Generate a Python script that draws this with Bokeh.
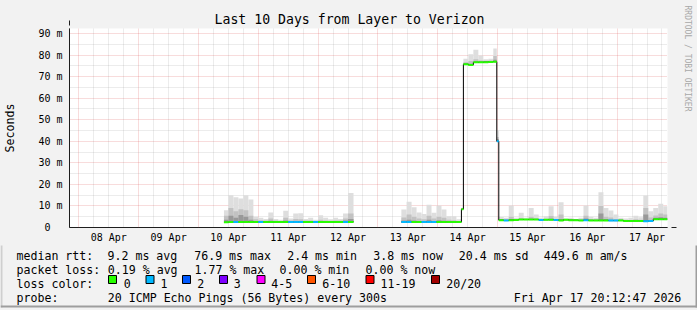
from math import nan
from bokeh.plotting import figure
from bokeh.layouts import column, row
from bokeh.models import FixedTicker, Arrow, NormalHead, ColumnDataSource, Range1d, Title
from bokeh.core.properties import value
from bokeh.embed import file_html
from bokeh.resources import INLINE

# ---------------- data (time in hours since 08 Apr 2026 00:00) ----------------
x_start_h = -3.787    # Fri Apr 07 20:12:47
x_end_h = 236.213     # Fri Apr 17 20:12:47

day_tick_hours = [12, 36, 60, 84, 108, 132, 156, 180, 204, 228]
day_tick_labels = ["08 Apr", "09 Apr", "10 Apr", "11 Apr", "12 Apr",
                   "13 Apr", "14 Apr", "15 Apr", "16 Apr", "17 Apr"]
midnight_hours = [0, 24, 48, 72, 96, 120, 144, 168, 192, 216]

y_tick_values = [0, 10, 20, 30, 40, 50, 60, 70, 80, 90]
y_tick_labels = ["0\u00a0\u00a0", "10 m", "20 m", "30 m", "40 m", "50 m",
                 "60 m", "70 m", "80 m", "90 m"]

bin_start = [58.2, 60, 62, 64, 66, 68, 70, 72, 74, 76, 78, 80, 82, 84, 86, 88, 90, 92, 94, 96,
             98, 100, 102, 104, 106, 108,
             129.4, 131.5, 133.5, 135.5, 137.5, 139.5, 141.5, 143.5, 145.5, 147.5, 149.5, 151.5, 153.5,
             154.3, 156.3, 158.3, 160.3, 162.3, 164.3, 166.3, 167.7,
             168.5, 170.5, 172.5, 174.5, 176.5, 178.5, 180.5, 182.5, 184.5, 186.5, 188.5, 190.5,
             192.5, 194.5, 196.5, 198.5, 200.5, 202.5, 204.5, 206.5, 208.5, 210.5, 212.5, 214.5,
             216.5, 218.5, 220.5, 222.5, 224.5, 226.5, 228.5, 230.5, 232.5, 234.5]
bin_end = [60, 62, 64, 66, 68, 70, 72, 74, 76, 78, 80, 82, 84, 86, 88, 90, 92, 94, 96, 98,
           100, 102, 104, 106, 108, 110.2,
           131.5, 133.5, 135.5, 137.5, 139.5, 141.5, 143.5, 145.5, 147.5, 149.5, 151.5, 153.5, 154.3,
           156.3, 158.3, 160.3, 162.3, 164.3, 166.3, 167.7, 168.5,
           170.5, 172.5, 174.5, 176.5, 178.5, 180.5, 182.5, 184.5, 186.5, 188.5, 190.5, 192.5,
           194.5, 196.5, 198.5, 200.5, 202.5, 204.5, 206.5, 208.5, 210.5, 212.5, 214.5, 216.5,
           218.5, 220.5, 222.5, 224.5, 226.5, 228.5, 230.5, 232.5, 234.5, 236.2]
median_ms = [2.4, 2.5, 2.5, 2.5, 2.5, 2.6, 2.5, 2.5, 2.5, 2.5, 2.5, 2.5, 2.5, 2.5, 2.5, 2.5, 2.5, 2.5, 2.5, 2.5,
             2.5, 2.5, 2.5, 2.5, 2.5, 2.6,
             2.5, 2.5, 2.5, 2.5, 2.5, 2.5, 2.5, 2.5, 2.5, 2.5, 2.5, 2.5, 8.5,
             75.7, 75.4, 76.6, 76.6, 76.7, 76.8, 76.9, 40.0,
             3.4, 3.3, 3.4, 3.5, 3.7, 3.7, 3.7, 3.7, 3.5, 3.6, 3.6, 3.5,
             3.3, 3.6, 3.4, 3.4, 3.3, 3.4, 3.3, 3.3, 3.3, 3.3, 3.2, 3.2,
             3.3, 3.0, 3.0, 3.0, 3.0, 2.9, 3.0, 3.8, 3.8, 3.8]
loss_count = [0, 0, 1, 0, 0, 0, 0, 1, 0, 0, 0, 0, 0, 1, 1, 1, 0, 0, 1, 0,
              0, 0, 0, 0, 1, 0,
              1, 1, 0, 0, 1, 1, 1, 0, 0, 0, 0, 0, 0,
              0, 0, 0, 0, 0, 0, 0, 1,
              0, 1, 0, 0, 0, 0, 0, 0, 1, 0, 0, 1,
              0, 0, 0, 0, 0, 1, 0, 0, 0, 0, 1, 1,
              0, 0, 0, 0, 0, 1, 1, 0, 0, 0]
smoke_max_ms = [8.0, 15.0, 14.0, 13.5, 15.0, 13.0, 5.0, 4.5, 4.0, 7.0, 4.0, 3.6, 7.8, 4.2, 6.5, 6.6, 4.0, 4.5, 3.6, 5.7,
                4.5, 3.8, 4.5, 4.0, 6.5, 16.0,
                8.3, 11.9, 9.4, 7.0, 6.3, 10.6, 6.8, 10.2, 8.3, 5.2, 5.2, 3.8, 9.2,
                78.3, 80.3, 82.5, 79.8, 78.0, 78.3, 83.0, 45.0,
                4.9, 4.5, 10.2, 4.5, 6.8, 4.5, 9.1, 6.0, 4.5, 5.2, 9.8, 5.0,
                11.7, 4.2, 4.5, 4.0, 4.5, 10.2, 5.0, 4.5, 16.3, 9.1, 7.9, 6.0,
                4.5, 4.2, 4.5, 5.5, 4.8, 14.9, 7.5, 9.1, 11.0, 9.8]
smoke_mid_ms = [5.5, 9.0, 7.5, 8.5, 8.0, 5.5, 3.8, 3.4, 3.3, 4.2, 3.2, 3.0, 4.5, 3.3, 4.0, 3.8, 3.2, 3.3, 3.0, 3.6,
                3.3, 3.1, 3.3, 3.2, 4.2, 6.5,
                4.6, 6.0, 5.0, 4.2, 3.8, 5.5, 4.2, 5.0, 4.5, 3.6, 3.4, 3.0, 8.9,
                76.6, 77.2, 78.0, 77.5, 77.3, 77.4, 79.5, 42.0,
                3.8, 3.7, 5.0, 3.8, 4.4, 3.9, 5.0, 4.3, 3.8, 4.0, 5.3, 3.9,
                6.0, 3.8, 3.7, 3.6, 3.7, 5.5, 3.8, 3.7, 10.0, 5.0, 4.6, 4.0,
                3.7, 3.4, 3.5, 3.8, 3.6, 9.0, 4.6, 5.6, 6.5, 6.0]
smoke_dark_ms = [3.6, 5.5, 4.5, 5.8, 5.0, 3.6, 3.0, 2.9, 2.8, 3.1, 2.8, 2.7, 3.2, 2.8, 3.0, 2.9, 2.8, 2.9, 2.7, 2.9,
                 2.8, 2.7, 2.9, 2.8, 3.2, 4.0,
                 3.2, 3.6, 3.2, 3.0, 2.9, 3.6, 3.0, 3.4, 3.1, 2.9, 2.9, 2.7, 8.7,
                 76.1, 76.0, 77.0, 77.0, 77.0, 77.1, 77.8, 41.0,
                 3.6, 3.5, 3.9, 3.7, 3.9, 3.9, 4.1, 3.9, 3.7, 3.8, 4.1, 3.7,
                 4.0, 3.7, 3.6, 3.5, 3.5, 4.2, 3.5, 3.5, 6.5, 3.8, 3.6, 3.4,
                 3.5, 3.2, 3.2, 3.3, 3.2, 6.0, 3.5, 4.5, 4.7, 4.5]

loss_labels = ["0", "1", "2", "3", "4-5", "6-10", "11-19", "20/20"]
loss_colors = ["#26ff00", "#00b8ff", "#0059ff", "#7e00ff", "#ff00ff", "#ff5500", "#ff0000", "#a10000"]

title_text = "Last 10 Days from Layer to Verizon"
watermark_text = "RRDTOOL / TOBI OETIKER"
legend_rows = [
    ["median rtt:", "9.2 ms avg", "76.9 ms max", "2.4 ms min", "3.8 ms now", "20.4 ms sd", "449.6 m am/s"],
    ["packet loss:", "0.19 % avg", "1.77 % max", "0.00 % min", "0.00 % now"],
    ["probe:", "20 ICMP Echo Pings (56 Bytes) every 300s", "Fri Apr 17 20:12:47 2026"],
]

# ---------------- layout constants (canvas pixels) ----------------
FONT = "DejaVu Sans Mono"
BG = "#F2F2F2"
SHADE_A, SHADE_B = "#CFCFCF", "#9E9E9E"
W, MAIN_H, H = 697, 245, 310
GAP = 3   # layout offset of the legend strip below the chart

# ---------------- main chart ----------------
p = figure(width=W, height=MAIN_H, output_backend="svg", toolbar_location=None,
           title=title_text, x_range=Range1d(x_start_h, x_end_h), y_range=Range1d(0, 92.3),
           min_border_left=67, min_border_right=30, min_border_top=28, min_border_bottom=17,
           margin=0)
p.background_fill_color = "white"
p.border_fill_color = BG
p.outline_line_color = None
p.title.align = "left"
p.title.offset = 145
p.title.standoff = 4
p.title.text_font = FONT
p.title.text_font_size = "13.2px"
p.title.text_font_style = "normal"
p.title.text_color = "black"

# watermark on the right: a thin spacer title, then the rotated text
p.add_layout(Title(text="\u00a0", text_font_size="1px", standoff=12), "right")
p.add_layout(Title(text=watermark_text, align="left", offset=-23, standoff=0,
                   text_font=FONT, text_font_size="8px", text_font_style="normal",
                   text_color="#A8A8A8"), "right")

p.xaxis.ticker = FixedTicker(ticks=day_tick_hours)
p.xaxis.major_label_overrides = dict(zip(day_tick_hours, day_tick_labels))
p.yaxis.ticker = FixedTicker(ticks=y_tick_values)
p.yaxis.major_label_overrides = dict(zip(y_tick_values, y_tick_labels))
for ax in (p.xaxis[0], p.yaxis[0]):
    ax.major_tick_line_color = None
    ax.minor_tick_line_color = None
    ax.major_tick_out = 0
    ax.major_tick_in = 0
    ax.minor_tick_out = 0
    ax.minor_tick_in = 0
    ax.major_label_text_font = FONT
    ax.major_label_text_font_size = "10px"
    ax.major_label_text_color = "black"
    ax.axis_line_color = "#1F1F1F"
p.xaxis.major_label_standoff = 4
p.yaxis.major_label_standoff = 7
p.yaxis.axis_label = "Seconds"
p.yaxis.axis_label_text_font = FONT
p.yaxis.axis_label_text_font_size = "11.6px"
p.yaxis.axis_label_text_font_style = "normal"
p.yaxis.axis_label_text_color = "black"
p.yaxis.axis_label_standoff = 18

six_hours = [h for h in range(6, 237, 6) if h % 24 != 0]
p.xgrid.ticker = FixedTicker(ticks=midnight_hours, minor_ticks=six_hours)
p.ygrid.ticker = FixedTicker(ticks=y_tick_values[1:], minor_ticks=[v + 5 for v in y_tick_values])
for g in (p.xgrid[0], p.ygrid[0]):
    g.grid_line_color = "#DE5050"
    g.grid_line_alpha = 0.4
    g.grid_line_dash = "1 1"
    g.minor_grid_line_color = "#8F8F8F"
    g.minor_grid_line_alpha = 0.35
    g.minor_grid_line_dash = "1 1"

src = ColumnDataSource(dict(left=bin_start, right=bin_end, med=median_ms,
                            mx=smoke_max_ms, mid=smoke_mid_ms, dark=smoke_dark_ms,
                            color=[loss_colors[l] for l in loss_count]))
p.quad(left="left", right="right", bottom="med", top="mx", source=src, fill_color="#DEDEDE", line_color=None)
p.quad(left="left", right="right", bottom="med", top="mid", source=src, fill_color="#C2C2C2", line_color=None)
p.quad(left="left", right="right", bottom="med", top="dark", source=src, fill_color="#999999", line_color=None)

xs, ys = [], []
for i in range(len(bin_start)):
    if i > 0 and bin_start[i] != bin_end[i - 1]:
        xs.append(nan)
        ys.append(nan)
    xs += [bin_start[i], bin_end[i]]
    ys += [median_ms[i], median_ms[i]]
p.line(xs, ys, line_color="black", line_width=1)
p.segment(x0="left", x1="right", y0="med", y1="med", line_color="color", line_width=2, source=src)

# small day ticks below the time axis (midnights)
for h in midnight_hours:
    p.add_layout(Arrow(x_start=h, y_start=0, x_end=h, y_end=-1.3, start=None, end=None,
                       line_color="#DE5050", line_alpha=0.8, line_width=1))

# axis arrows and canvas shading (frame-relative screen units; origin = canvas (67, 228))
FL, FB = 67, 228
def arrow(cx0, cy0, cx1, cy1, color, width=1, head=False):
    p.add_layout(Arrow(x_start=cx0 - FL, y_start=FB - cy0, x_end=cx1 - FL, y_end=FB - cy1,
                       start_units="screen", end_units="screen", line_color=color, line_width=width,
                       start=None,
                       end=NormalHead(size=5, fill_color="#801F1F", line_color="#801F1F") if head else None))
arrow(67, 228, 67, 21, "#1F1F1F", head=True)
arrow(63, 228, 674, 228, "#1F1F1F", head=True)
arrow(1, 0, 1, MAIN_H, SHADE_A, width=2)
arrow(0, 1, W, 1, SHADE_A, width=2)
arrow(696, 2, 696, MAIN_H, SHADE_B, width=2)

# ---------------- legend area below (y in canvas pixels) ----------------
lg = figure(width=W, height=H - MAIN_H, output_backend="svg", toolbar_location=None, title=None,
            x_range=Range1d(0, W), y_range=Range1d(H + GAP, MAIN_H + GAP),
            x_axis_location=None, y_axis_location=None,
            min_border_left=0, min_border_right=0, min_border_top=0, min_border_bottom=0,
            margin=0)
lg.background_fill_color = BG
lg.border_fill_color = BG
lg.outline_line_color = None
lg.grid.visible = False

row_x = [
    [16, 107, 193.7, 286.7, 372.7, 458.3, 543.3],
    [16, 107.3, 194, 279, 365],
    [16, 107.3, 513.3],
]
row_y = [258.4, 272.3, 300.2]
tx, ty, tt = [], [], []
for items, xpos, yb in zip(legend_rows, row_x, row_y):
    for t, xx in zip(items, xpos):
        tx.append(xx)
        ty.append(yb)
        tt.append(t)
box_left = [108, 145.5, 182, 219, 256.5, 307, 365.5, 431]
text_left = [123.3, 160, 196.7, 233.3, 270.7, 321.7, 380, 445.7]
tx.append(16); ty.append(286.3); tt.append("loss color:")
for tl, t in zip(text_left, loss_labels):
    tx.append(tl); ty.append(286.3); tt.append(t)
lg.text(x=tx, y=ty, text=tt, text_align="left", text_baseline="alphabetic",
        text_font=value(FONT), text_font_size=value("11.6px"), text_color="black")
lg.quad(left=box_left, right=[b + 8 for b in box_left], top=[278] * 8, bottom=[286] * 8,
        fill_color=loss_colors, line_color="black", line_width=1)
lg.quad(left=[0], right=[2], top=[MAIN_H], bottom=[H], fill_color=SHADE_A, line_color=None)
lg.quad(left=[0], right=[W], top=[H - 2], bottom=[H], fill_color=SHADE_B, line_color=None)
lg.quad(left=[W - 2], right=[W], top=[MAIN_H], bottom=[H], fill_color=SHADE_B, line_color=None)

layout = column(p, row(lg, spacing=0, margin=0), spacing=0, margin=0)
layout.styles = {"background-color": BG}
open("out.html", "w").write(file_html(layout, INLINE))
